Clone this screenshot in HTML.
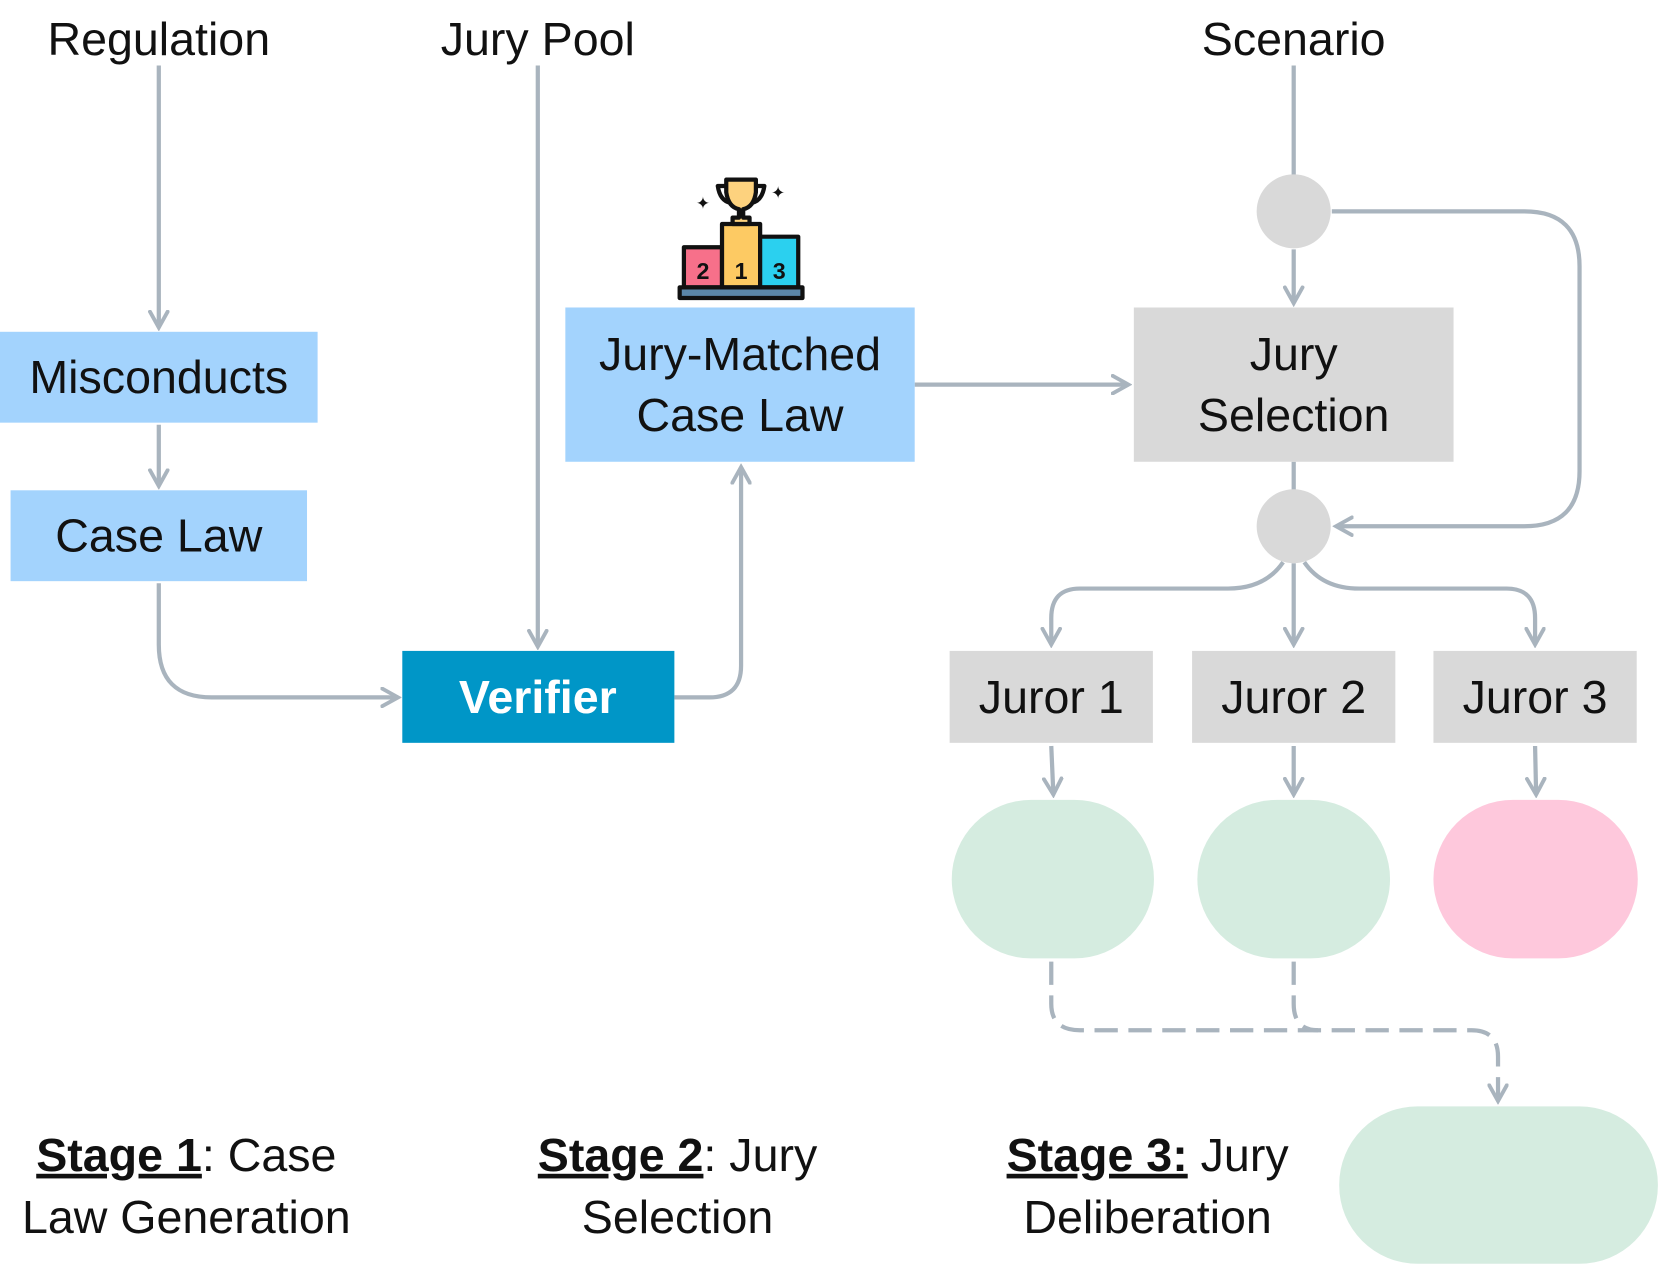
<!DOCTYPE html>
<html><head><meta charset="utf-8"><style>html,body{margin:0;padding:0;background:#fff}svg{display:block}</style></head>
<body>
<svg width="1660" height="1268" viewBox="0 0 1568 1200" preserveAspectRatio="none" xmlns="http://www.w3.org/2000/svg" font-family="Liberation Sans, DejaVu Sans, sans-serif">
<defs>
<marker id="a" viewBox="0 0 12 12" refX="10" refY="6" markerWidth="5" markerHeight="5" orient="auto-start-reverse" markerUnits="strokeWidth">
<path d="M1,1 L10,6 L1,11" fill="none" stroke="#a9b4be" stroke-width="2.2" stroke-linecap="round"/>
</marker>
</defs>
<g fill="none" stroke="#a9b4be" stroke-width="4">
<line x1="150" y1="62" x2="150" y2="310" marker-end="url(#a)"/>
<line x1="150" y1="402" x2="150" y2="460" marker-end="url(#a)"/>
<path d="M150,552 V610 Q150,660 200,660 H376" marker-end="url(#a)"/>
<line x1="508" y1="62" x2="508" y2="612" marker-end="url(#a)"/>
<path d="M637,660 H670 Q700,660 700,630 V442" marker-end="url(#a)"/>
<line x1="864" y1="364" x2="1066" y2="364" marker-end="url(#a)"/>
<line x1="1222" y1="62" x2="1222" y2="166"/>
<line x1="1222" y1="236" x2="1222" y2="287" marker-end="url(#a)"/>
<path d="M1258,200 H1440 Q1492,200 1492,252 V446 Q1492,498 1440,498 H1262" marker-end="url(#a)"/>
<line x1="1222" y1="437" x2="1222" y2="464"/>
<path d="M1212,532 Q1195,557 1160,557 H1020 Q993,557 993,585 V610" marker-end="url(#a)"/>
<line x1="1222" y1="533" x2="1222" y2="610" marker-end="url(#a)"/>
<path d="M1232,532 Q1249,557 1284,557 H1423 Q1450,557 1450,585 V610" marker-end="url(#a)"/>
<line x1="993" y1="706" x2="995" y2="752" marker-end="url(#a)"/>
<line x1="1222" y1="706" x2="1222" y2="752" marker-end="url(#a)"/>
<line x1="1450" y1="706" x2="1451" y2="752" marker-end="url(#a)"/>
<g stroke-dasharray="22,10">
<path d="M993,910 V950 Q993,975 1020,975 H1390 Q1415,975 1415,1000 V1042" marker-end="url(#a)"/>
<path d="M1222,910 V950 Q1222,975 1245,975"/>
</g>
</g>
<circle cx="1222" cy="200" r="35" fill="#d9d9d9"/>
<circle cx="1222" cy="498" r="35" fill="#d9d9d9"/>
<rect x="0" y="314" width="300" height="86" fill="#a3d3fd"/>
<rect x="10" y="464" width="280" height="86" fill="#a3d3fd"/>
<rect x="380" y="616" width="257" height="87" fill="#0096c7"/>
<rect x="534" y="291" width="330" height="146" fill="#a3d3fd"/>
<rect x="1071" y="291" width="302" height="146" fill="#d9d9d9"/>
<rect x="897" y="616" width="192" height="87" fill="#d9d9d9"/>
<rect x="1126" y="616" width="192" height="87" fill="#d9d9d9"/>
<rect x="1354" y="616" width="192" height="87" fill="#d9d9d9"/>
<rect x="899" y="757" width="191" height="150" rx="75" fill="#d5ece0"/>
<rect x="1131" y="757" width="182" height="150" rx="75" fill="#d5ece0"/>
<rect x="1354" y="757" width="193" height="150" rx="75" fill="#fec8dc"/>
<rect x="1265" y="1047" width="301" height="149" rx="74" fill="#d5ece0"/>
<!-- trophy -->
<g stroke="#111" stroke-width="4" stroke-linejoin="round">
<rect x="646" y="234" width="36" height="38" fill="#f7708a"/>
<rect x="682" y="212" width="36" height="60" fill="#fdca63"/>
<rect x="718" y="224" width="36" height="48" fill="#2bd0ef"/>
<rect x="642" y="272" width="116" height="10" fill="#5b86a8"/>
<path d="M686,170 H714 V182 Q712,196 702,198 V206 H708 V212 H692 V206 H698 V198 Q688,196 686,182 Z" fill="#fdd27e"/>
<path d="M686,176 H678 Q680,190 690,192 M714,176 H722 Q720,190 710,192" fill="none"/>
</g>
<g fill="#111" font-weight="bold" font-size="22" text-anchor="middle">
<text x="664" y="264">2</text><text x="700" y="264">1</text><text x="736" y="264">3</text>
<text x="664" y="198" font-size="16">✦</text><text x="735" y="188" font-size="16">✦</text>
</g>
<g font-size="44" fill="#111" text-anchor="middle">
<text x="150" y="52">Regulation</text>
<text x="508" y="52">Jury Pool</text>
<text x="1222" y="52">Scenario</text>
<text x="150" y="372">Misconducts</text>
<text x="150" y="522">Case Law</text>
<text x="699" y="350">Jury-Matched</text>
<text x="699" y="408">Case Law</text>
<text x="1222" y="350">Jury</text>
<text x="1222" y="408">Selection</text>
<text x="993" y="675">Juror 1</text>
<text x="1222" y="675">Juror 2</text>
<text x="1450" y="675">Juror 3</text>
<text x="508" y="675" fill="#fff" font-weight="bold">Verifier</text>
<text x="176" y="1108"><tspan font-weight="bold" text-decoration="underline">Stage 1</tspan>: Case</text>
<text x="176" y="1167">Law Generation</text>
<text x="640" y="1108"><tspan font-weight="bold" text-decoration="underline">Stage 2</tspan>: Jury</text>
<text x="640" y="1167">Selection</text>
<text x="1084" y="1108"><tspan font-weight="bold" text-decoration="underline">Stage 3:</tspan> Jury</text>
<text x="1084" y="1167">Deliberation</text>
</g>
</svg>
</body></html>
